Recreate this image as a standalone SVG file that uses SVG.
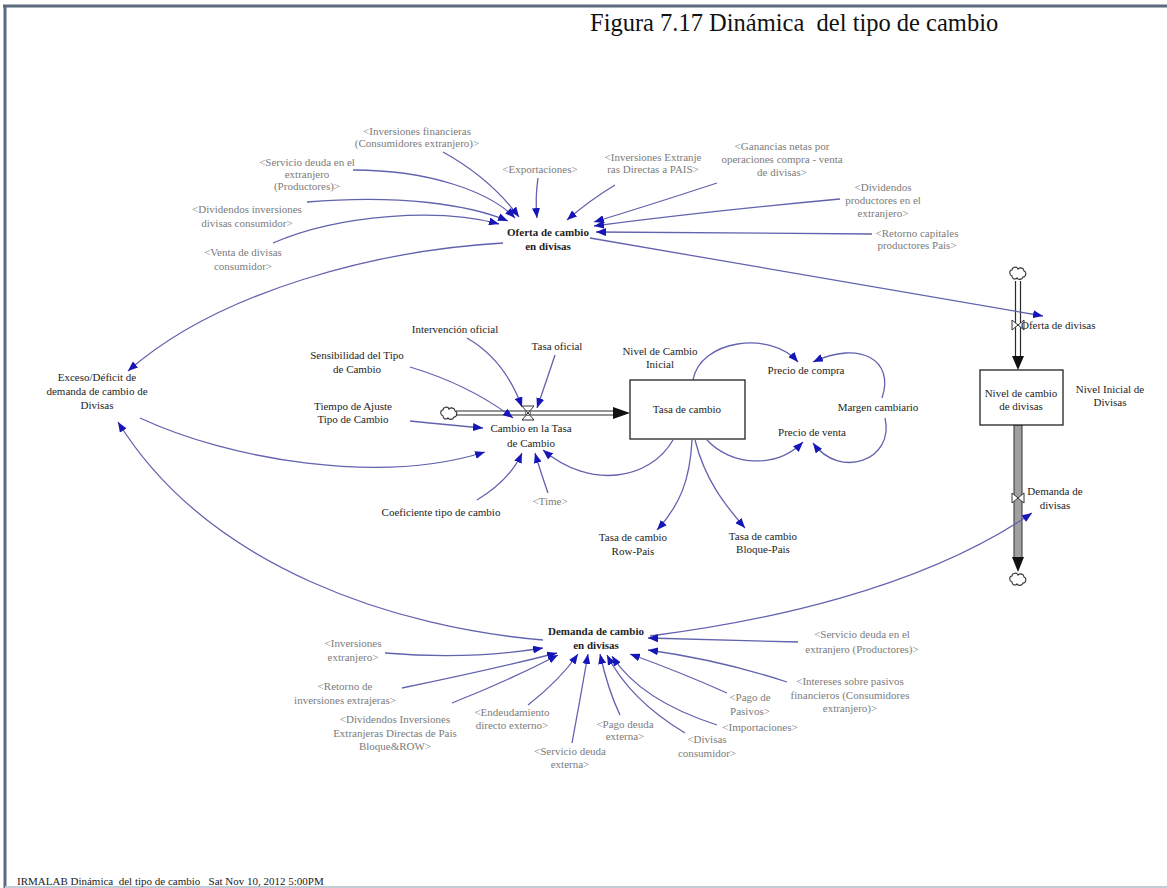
<svg xmlns="http://www.w3.org/2000/svg" width="1167" height="888" viewBox="0 0 1167 888">
<style>
text{font-family:"Liberation Serif","Times New Roman",serif;font-size:11px;fill:#1e1e1e;text-anchor:middle}
.g{fill:#7c7c7c}
.b{font-weight:bold}
.l{text-anchor:start}
.pre{white-space:pre}
.c{fill:none;stroke:#6262ae;stroke-width:1.3;marker-end:url(#ah)}
.p{fill:none;stroke:#2a2a2a;stroke-width:1.2}
.cl{fill:#fff;stroke:#333;stroke-width:1.1}
.v{fill:#fff;stroke:#333;stroke-width:1}
.s{fill:#fff;stroke:#222;stroke-width:1.3}
</style>
<defs>
<marker id="ah" markerWidth="10" markerHeight="8" refX="10" refY="4" orient="auto" markerUnits="userSpaceOnUse"><path d="M0,0 L10,4 L0,8 z" fill="#1616b8"/></marker>
</defs>
<rect width="1167" height="888" fill="#fff"/>
<g id="frame">
<line x1="3" y1="6" x2="1167" y2="6" stroke="#5b6a7c" stroke-width="3"/>
<line x1="5" y1="5" x2="5" y2="888" stroke="#5b6a7c" stroke-width="3"/>
<line x1="5" y1="887" x2="1167" y2="887" stroke="#c4ccd6" stroke-width="2"/>
</g>
<text id="title" x="590" y="31" class="l pre" style="font-size:24.5px;fill:#111">Figura 7.17 Dinámica  del tipo de cambio</text>
<text id="footer" x="17" y="885" class="l pre" style="font-size:11px;fill:#222">IRMALAB Dinámica  del tipo de cambio   Sat Nov 10, 2012 5:00PM</text>

<g id="flows">
<g id="flow-cambio">
<path class="cl" d="M443,416 c-3,-1 -3,-6 0,-6 c0,-3 5,-4 6,-1 c2,-2 6,-1 6,2 c3,1 2,6 -1,6 c-1,3 -5,3 -6,1 c-2,2 -5,1 -5,-2 z"/>
<line class="p" x1="456" y1="411" x2="615" y2="411"/>
<line class="p" x1="456" y1="415" x2="615" y2="415"/>
<polygon points="613,407 630,413 613,419" fill="#111"/>
<polygon class="v" points="522,406 534,406 528,413 534,420 522,420 528,413"/>
<circle cx="528" cy="413" r="2.5" fill="none" stroke="#333" stroke-width="0.8"/>
</g>
<g id="flow-oferta">
<path class="cl" d="M1012,276 c-3,-1 -3,-6 0,-6 c0,-3 5,-4 6,-1 c2,-2 6,-1 6,2 c3,1 2,6 -1,6 c-1,3 -5,3 -6,1 c-2,2 -5,1 -5,-2 z"/>
<line class="p" x1="1015.5" y1="281" x2="1015.5" y2="358"/>
<line class="p" x1="1020.5" y1="281" x2="1020.5" y2="358"/>
<polygon points="1012,356 1024,356 1018,370" fill="#111"/>
<polygon class="v" points="1012,320 1012,330 1018,325 1024,320 1024,330 1018,325"/>
</g>
<g id="flow-demanda">
<rect x="1014" y="425" width="8" height="133" fill="#a0a0a0" stroke="#333" stroke-width="1"/>
<polygon points="1012,557 1024,557 1018,572" fill="#111"/>
<path class="cl" d="M1012,582 c-3,-1 -3,-6 0,-6 c0,-3 5,-4 6,-1 c2,-2 6,-1 6,2 c3,1 2,6 -1,6 c-1,3 -5,3 -6,1 c-2,2 -5,1 -5,-2 z"/>
<polygon class="v" points="1012,493 1012,503 1018,498 1024,493 1024,503 1018,498"/>
</g>
</g>

<g id="connectors">
<path class="c" d="M443,152 Q490,178 519,217"/>
<path class="c" d="M353,170 C430,170 490,192 515,218"/>
<path class="c" d="M538,178 Q535,198 537,218"/>
<path class="c" d="M307,202 C400,194 470,205 508,221"/>
<path class="c" d="M273,243 C340,214 440,208 499,224"/>
<path class="c" d="M615,185 Q590,200 567,220"/>
<path class="c" d="M717,183 Q650,205 594,222"/>
<path class="c" d="M840,199 Q700,212 594,226"/>
<path class="c" d="M872,234 L596,232"/>
<path class="c" d="M590,238 C750,265 900,290 1043,316"/>
<path class="c" d="M503,243 C380,250 220,290 128,371"/>
<path class="c" d="M140,418 C230,460 380,485 485,452"/>
<path class="c" d="M467,338 Q505,360 522,407"/>
<path class="c" d="M410,367 Q470,385 513,418"/>
<path class="c" d="M555,355 Q545,385 537,408"/>
<path class="c" d="M410,421 Q450,425 483,428"/>
<path class="c" d="M477,500 Q510,480 522,453"/>
<path class="c" d="M548,493 Q540,470 535,453"/>
<path class="c" d="M673,440 C650,480 590,490 543,450"/>
<path class="c" d="M693,380 C700,340 770,330 798,362"/>
<path class="c" d="M882,398 C895,360 860,340 813,362"/>
<path class="c" d="M707,440 C730,465 775,470 803,442"/>
<path class="c" d="M885,418 C895,460 840,480 813,443"/>
<path class="c" d="M692,440 C690,480 680,505 657,530"/>
<path class="c" d="M695,440 C705,480 725,505 745,528"/>
<path class="c" d="M543,640 C400,628 210,570 118,422"/>
<path class="c" d="M650,636 C760,622 920,590 1032,513"/>
<path class="c" d="M385,653 Q470,660 543,648"/>
<path class="c" d="M402,688 Q490,670 557,653"/>
<path class="c" d="M452,703 Q510,680 558,655"/>
<path class="c" d="M528,705 Q560,680 578,654"/>
<path class="c" d="M572,743 Q580,700 588,654"/>
<path class="c" d="M620,715 Q608,690 600,654"/>
<path class="c" d="M685,733 Q630,700 607,655"/>
<path class="c" d="M717,725 Q640,700 612,656"/>
<path class="c" d="M727,693 Q680,672 630,654"/>
<path class="c" d="M787,682 Q720,660 648,650"/>
<path class="c" d="M798,642 L648,638"/>
</g>

<g id="n-oferta"><text class="b" x="548" y="236">Oferta de cambio<tspan x="548" dy="14">en divisas</tspan></text></g>
<g id="n-invfin"><text class="g" x="417" y="135">&lt;Inversiones financieras<tspan x="417" dy="12">(Consumidores extranjero)&gt;</tspan></text></g>
<g id="n-servdeuda1"><text class="g" x="307" y="166">&lt;Servicio deuda en el<tspan x="307" dy="12">extranjero</tspan><tspan x="307" dy="12">(Productores)&gt;</tspan></text></g>
<g id="n-export"><text class="g" x="540" y="173">&lt;Exportaciones&gt;</text></g>
<g id="n-divinv"><text class="g" x="247" y="213">&lt;Dividendos inversiones<tspan x="247" dy="14">divisas consumidor&gt;</tspan></text></g>
<g id="n-venta"><text class="g" x="243" y="256">&lt;Venta de divisas<tspan x="243" dy="14">consumidor&gt;</tspan></text></g>
<g id="n-ied"><text class="g" x="653" y="161">&lt;Inversiones Extranje<tspan x="653" dy="12">ras Directas a PAIS&gt;</tspan></text></g>
<g id="n-ganancias"><text class="g" x="782" y="150">&lt;Ganancias netas por<tspan x="782" dy="13">operaciones compra - venta</tspan><tspan x="782" dy="13">de divisas&gt;</tspan></text></g>
<g id="n-divprod"><text class="g" x="883" y="191">&lt;Dividendos<tspan x="883" dy="13">productores en el</tspan><tspan x="883" dy="13">extranjero&gt;</tspan></text></g>
<g id="n-retorno"><text class="g" x="917" y="237">&lt;Retorno capitales<tspan x="917" dy="12">productores Pais&gt;</tspan></text></g>

<g id="n-exceso"><text x="97" y="381">Exceso/Déficit de<tspan x="97" dy="14">demanda de cambio de</tspan><tspan x="97" dy="14">Divisas</tspan></text></g>
<g id="n-cambio"><text x="531" y="432">Cambio en la Tasa<tspan x="531" dy="15">de Cambio</tspan></text></g>
<g id="n-interv"><text x="455" y="333">Intervención oficial</text></g>
<g id="n-sens"><text x="357" y="359">Sensibilidad del Tipo<tspan x="357" dy="14">de Cambio</tspan></text></g>
<g id="n-tiempo"><text x="353" y="410">Tiempo de Ajuste<tspan x="353" dy="13">Tipo de Cambio</tspan></text></g>
<g id="n-tasaof"><text x="557" y="350">Tasa oficial</text></g>
<g id="n-coef"><text x="441" y="516">Coeficiente tipo de cambio</text></g>
<g id="n-time"><text class="g" x="550" y="505">&lt;Time&gt;</text></g>

<g id="n-tasa"><rect class="s" x="630" y="380" width="115" height="59"/><text x="687" y="413">Tasa de cambio</text></g>
<g id="n-nivelini"><text x="660" y="355">Nivel de Cambio<tspan x="660" dy="13">Inicial</tspan></text></g>
<g id="n-compra"><text x="806" y="374">Precio de compra</text></g>
<g id="n-venta2"><text x="812" y="436">Precio de venta</text></g>
<g id="n-margen"><text x="878" y="411">Margen cambiario</text></g>
<g id="n-row"><text x="633" y="541">Tasa de cambio<tspan x="633" dy="14">Row-Pais</tspan></text></g>
<g id="n-bloque"><text x="763" y="540">Tasa de cambio<tspan x="763" dy="13">Bloque-Pais</tspan></text></g>

<g id="n-nivdiv"><rect class="s" x="980" y="370" width="83" height="55"/><text x="1021" y="397">Nivel de cambio<tspan x="1021" dy="13">de divisas</tspan></text></g>
<g id="n-ofdiv"><text class="l" x="1021" y="329">Oferta de divisas</text></g>
<g id="n-nivinidiv"><text x="1110" y="393">Nivel Inicial de<tspan x="1110" dy="13">Divisas</tspan></text></g>
<g id="n-demdiv"><text x="1055" y="495">Demanda de<tspan x="1055" dy="14">divisas</tspan></text></g>

<g id="n-demanda"><text class="b" x="596" y="635">Demanda de cambio<tspan x="596" dy="14">en divisas</tspan></text></g>
<g id="n-invext"><text class="g" x="353" y="647">&lt;Inversiones<tspan x="353" dy="14">extranjero&gt;</tspan></text></g>
<g id="n-retinv"><text class="g" x="345" y="690">&lt;Retorno de<tspan x="345" dy="14">inversiones extrajeras&gt;</tspan></text></g>
<g id="n-divied"><text class="g" x="395" y="723">&lt;Dividendos Inversiones<tspan x="395" dy="14">Extranjeras Directas de Pais</tspan><tspan x="395" dy="13">Bloque&amp;ROW&gt;</tspan></text></g>
<g id="n-endeud"><text class="g" x="512" y="716">&lt;Endeudamiento<tspan x="512" dy="13">directo externo&gt;</tspan></text></g>
<g id="n-servext"><text class="g" x="570" y="755">&lt;Servicio deuda<tspan x="570" dy="13">externa&gt;</tspan></text></g>
<g id="n-pagodeuda"><text class="g" x="625" y="728">&lt;Pago deuda<tspan x="625" dy="12">externa&gt;</tspan></text></g>
<g id="n-divcons"><text class="g" x="707" y="743">&lt;Divisas<tspan x="707" dy="14">consumidor&gt;</tspan></text></g>
<g id="n-import"><text class="g" x="760" y="731">&lt;Importaciones&gt;</text></g>
<g id="n-pagopas"><text class="g" x="750" y="701">&lt;Pago de<tspan x="750" dy="14">Pasivos&gt;</tspan></text></g>
<g id="n-intereses"><text class="g" x="850" y="685">&lt;Intereses sobre pasivos<tspan x="850" dy="14">financieros (Consumidores</tspan><tspan x="850" dy="13">extranjero)&gt;</tspan></text></g>
<g id="n-servdeuda2"><text class="g" x="862" y="638">&lt;Servicio deuda en el<tspan x="862" dy="15">extranjero (Productores)&gt;</tspan></text></g>
</svg>
